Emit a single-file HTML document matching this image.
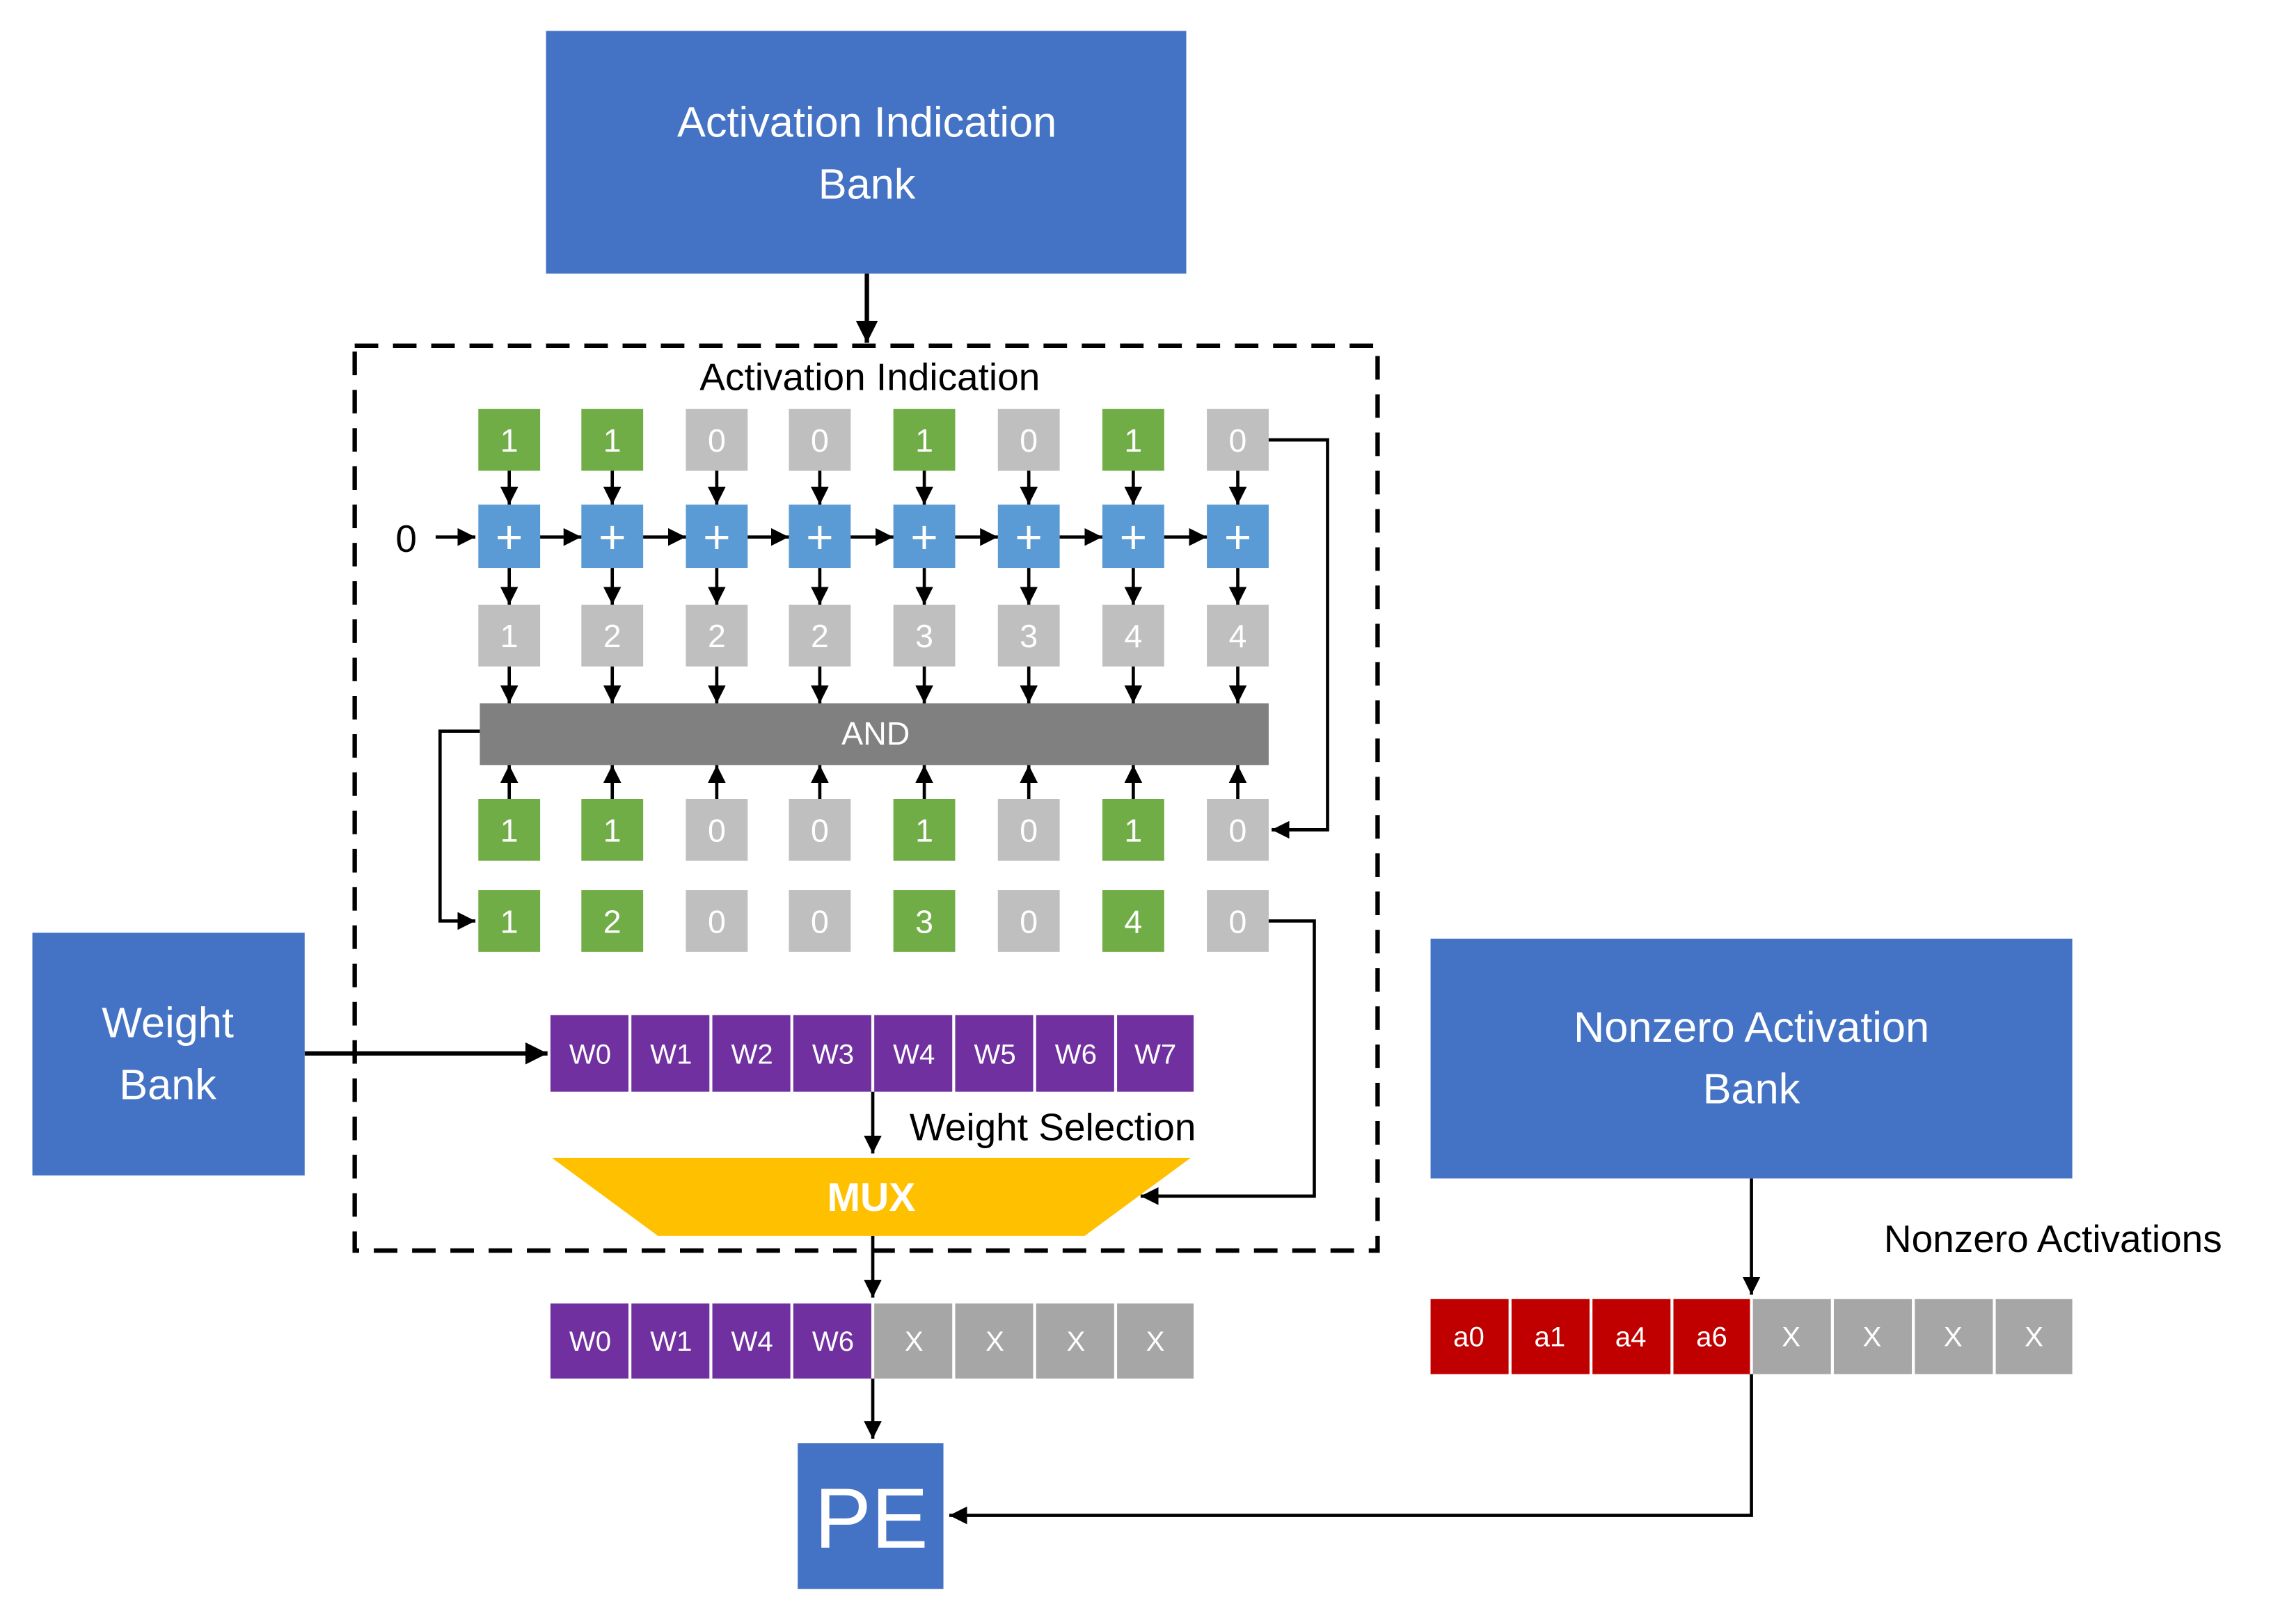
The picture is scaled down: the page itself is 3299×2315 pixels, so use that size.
<!DOCTYPE html>
<html><head><meta charset="utf-8"><style>
html,body{margin:0;padding:0;background:#fff;}
svg{display:block;}
text{font-family:"Liberation Sans",sans-serif;}
</style></head><body>
<svg width="3299" height="2315" viewBox="0 0 1560 1095" preserveAspectRatio="none" xmlns="http://www.w3.org/2000/svg">
<defs>
<marker id="a" viewBox="0 0 10 10" refX="10" refY="5" markerWidth="5" markerHeight="5" orient="auto" markerUnits="strokeWidth"><path d="M0,0 L10,5 L0,10 z" fill="#000"/></marker>
<marker id="s" viewBox="0 0 10 10" refX="10" refY="5" markerWidth="5.5" markerHeight="5.5" orient="auto" markerUnits="strokeWidth"><path d="M0,0 L10,5 L0,10 z" fill="#000"/></marker>
</defs>
<rect x="371" y="21" width="435" height="165" fill="#4472C4"/>
<text x="589" y="93" font-size="29" fill="#fff" text-anchor="middle">Activation  Indication</text>
<text x="589" y="135" font-size="29" fill="#fff" text-anchor="middle">Bank</text>
<line x1="589" y1="186" x2="589" y2="233" stroke="#000" stroke-width="3" marker-end="url(#a)"/>
<rect x="241" y="235" width="695" height="615" fill="none" stroke="#000" stroke-width="3" stroke-dasharray="16,10"/>
<text x="591" y="265" font-size="26" fill="#000" text-anchor="middle">Activation Indication</text>
<text x="276" y="375" font-size="26" fill="#000" text-anchor="middle">0</text>
<g font-size="22" fill="#fff" text-anchor="middle">
<rect x="325" y="278" width="42" height="42" fill="#70AD47"/><text x="346" y="307">1</text>
<rect x="395" y="278" width="42" height="42" fill="#70AD47"/><text x="416" y="307">1</text>
<rect x="466" y="278" width="42" height="42" fill="#BFBFBF"/><text x="487" y="307">0</text>
<rect x="536" y="278" width="42" height="42" fill="#BFBFBF"/><text x="557" y="307">0</text>
<rect x="607" y="278" width="42" height="42" fill="#70AD47"/><text x="628" y="307">1</text>
<rect x="678" y="278" width="42" height="42" fill="#BFBFBF"/><text x="699" y="307">0</text>
<rect x="749" y="278" width="42" height="42" fill="#70AD47"/><text x="770" y="307">1</text>
<rect x="820" y="278" width="42" height="42" fill="#BFBFBF"/><text x="841" y="307">0</text>
<g font-size="32">
<rect x="325" y="343" width="42" height="43" fill="#5B9BD5"/><text x="346" y="376">+</text>
<rect x="395" y="343" width="42" height="43" fill="#5B9BD5"/><text x="416" y="376">+</text>
<rect x="466" y="343" width="42" height="43" fill="#5B9BD5"/><text x="487" y="376">+</text>
<rect x="536" y="343" width="42" height="43" fill="#5B9BD5"/><text x="557" y="376">+</text>
<rect x="607" y="343" width="42" height="43" fill="#5B9BD5"/><text x="628" y="376">+</text>
<rect x="678" y="343" width="42" height="43" fill="#5B9BD5"/><text x="699" y="376">+</text>
<rect x="749" y="343" width="42" height="43" fill="#5B9BD5"/><text x="770" y="376">+</text>
<rect x="820" y="343" width="42" height="43" fill="#5B9BD5"/><text x="841" y="376">+</text>
</g>
<rect x="325" y="411" width="42" height="42" fill="#BFBFBF"/><text x="346" y="440">1</text>
<rect x="395" y="411" width="42" height="42" fill="#BFBFBF"/><text x="416" y="440">2</text>
<rect x="466" y="411" width="42" height="42" fill="#BFBFBF"/><text x="487" y="440">2</text>
<rect x="536" y="411" width="42" height="42" fill="#BFBFBF"/><text x="557" y="440">2</text>
<rect x="607" y="411" width="42" height="42" fill="#BFBFBF"/><text x="628" y="440">3</text>
<rect x="678" y="411" width="42" height="42" fill="#BFBFBF"/><text x="699" y="440">3</text>
<rect x="749" y="411" width="42" height="42" fill="#BFBFBF"/><text x="770" y="440">4</text>
<rect x="820" y="411" width="42" height="42" fill="#BFBFBF"/><text x="841" y="440">4</text>
<rect x="326" y="478" width="536" height="42" fill="#808080"/><text x="595" y="506">AND</text>
<rect x="325" y="543" width="42" height="42" fill="#70AD47"/><text x="346" y="572">1</text>
<rect x="395" y="543" width="42" height="42" fill="#70AD47"/><text x="416" y="572">1</text>
<rect x="466" y="543" width="42" height="42" fill="#BFBFBF"/><text x="487" y="572">0</text>
<rect x="536" y="543" width="42" height="42" fill="#BFBFBF"/><text x="557" y="572">0</text>
<rect x="607" y="543" width="42" height="42" fill="#70AD47"/><text x="628" y="572">1</text>
<rect x="678" y="543" width="42" height="42" fill="#BFBFBF"/><text x="699" y="572">0</text>
<rect x="749" y="543" width="42" height="42" fill="#70AD47"/><text x="770" y="572">1</text>
<rect x="820" y="543" width="42" height="42" fill="#BFBFBF"/><text x="841" y="572">0</text>
<rect x="325" y="605" width="42" height="42" fill="#70AD47"/><text x="346" y="634">1</text>
<rect x="395" y="605" width="42" height="42" fill="#70AD47"/><text x="416" y="634">2</text>
<rect x="466" y="605" width="42" height="42" fill="#BFBFBF"/><text x="487" y="634">0</text>
<rect x="536" y="605" width="42" height="42" fill="#BFBFBF"/><text x="557" y="634">0</text>
<rect x="607" y="605" width="42" height="42" fill="#70AD47"/><text x="628" y="634">3</text>
<rect x="678" y="605" width="42" height="42" fill="#BFBFBF"/><text x="699" y="634">0</text>
<rect x="749" y="605" width="42" height="42" fill="#70AD47"/><text x="770" y="634">4</text>
<rect x="820" y="605" width="42" height="42" fill="#BFBFBF"/><text x="841" y="634">0</text>
</g>
<g stroke="#000" stroke-width="2.2" fill="none">
<line x1="296" y1="365" x2="323" y2="365" marker-end="url(#s)"/>
<line x1="346" y1="320" x2="346" y2="343" marker-end="url(#s)"/>
<line x1="416" y1="320" x2="416" y2="343" marker-end="url(#s)"/>
<line x1="487" y1="320" x2="487" y2="343" marker-end="url(#s)"/>
<line x1="557" y1="320" x2="557" y2="343" marker-end="url(#s)"/>
<line x1="628" y1="320" x2="628" y2="343" marker-end="url(#s)"/>
<line x1="699" y1="320" x2="699" y2="343" marker-end="url(#s)"/>
<line x1="770" y1="320" x2="770" y2="343" marker-end="url(#s)"/>
<line x1="841" y1="320" x2="841" y2="343" marker-end="url(#s)"/>
<line x1="346" y1="386" x2="346" y2="411" marker-end="url(#s)"/>
<line x1="416" y1="386" x2="416" y2="411" marker-end="url(#s)"/>
<line x1="487" y1="386" x2="487" y2="411" marker-end="url(#s)"/>
<line x1="557" y1="386" x2="557" y2="411" marker-end="url(#s)"/>
<line x1="628" y1="386" x2="628" y2="411" marker-end="url(#s)"/>
<line x1="699" y1="386" x2="699" y2="411" marker-end="url(#s)"/>
<line x1="770" y1="386" x2="770" y2="411" marker-end="url(#s)"/>
<line x1="841" y1="386" x2="841" y2="411" marker-end="url(#s)"/>
<line x1="346" y1="453" x2="346" y2="478" marker-end="url(#s)"/>
<line x1="416" y1="453" x2="416" y2="478" marker-end="url(#s)"/>
<line x1="487" y1="453" x2="487" y2="478" marker-end="url(#s)"/>
<line x1="557" y1="453" x2="557" y2="478" marker-end="url(#s)"/>
<line x1="628" y1="453" x2="628" y2="478" marker-end="url(#s)"/>
<line x1="699" y1="453" x2="699" y2="478" marker-end="url(#s)"/>
<line x1="770" y1="453" x2="770" y2="478" marker-end="url(#s)"/>
<line x1="841" y1="453" x2="841" y2="478" marker-end="url(#s)"/>
<line x1="346" y1="543" x2="346" y2="520" marker-end="url(#s)"/>
<line x1="416" y1="543" x2="416" y2="520" marker-end="url(#s)"/>
<line x1="487" y1="543" x2="487" y2="520" marker-end="url(#s)"/>
<line x1="557" y1="543" x2="557" y2="520" marker-end="url(#s)"/>
<line x1="628" y1="543" x2="628" y2="520" marker-end="url(#s)"/>
<line x1="699" y1="543" x2="699" y2="520" marker-end="url(#s)"/>
<line x1="770" y1="543" x2="770" y2="520" marker-end="url(#s)"/>
<line x1="841" y1="543" x2="841" y2="520" marker-end="url(#s)"/>
<line x1="367" y1="365" x2="395" y2="365" marker-end="url(#s)"/>
<line x1="437" y1="365" x2="466" y2="365" marker-end="url(#s)"/>
<line x1="508" y1="365" x2="536" y2="365" marker-end="url(#s)"/>
<line x1="578" y1="365" x2="607" y2="365" marker-end="url(#s)"/>
<line x1="649" y1="365" x2="678" y2="365" marker-end="url(#s)"/>
<line x1="720" y1="365" x2="749" y2="365" marker-end="url(#s)"/>
<line x1="791" y1="365" x2="820" y2="365" marker-end="url(#s)"/>
<path d="M862 299H902V564H864" marker-end="url(#s)"/>
<path d="M326 497H299V626H323" marker-end="url(#s)"/>
<path d="M862 626H893V813H775" marker-end="url(#s)"/>
<line x1="593" y1="742" x2="593" y2="784" marker-end="url(#s)"/>
<line x1="593" y1="840" x2="593" y2="882" marker-end="url(#s)"/>
<line x1="593" y1="937" x2="593" y2="978" marker-end="url(#s)"/>
<line x1="1190" y1="801" x2="1190" y2="880" marker-end="url(#s)"/>
<path d="M1190 934V1030H645" marker-end="url(#s)"/>
</g>
<line x1="207" y1="716" x2="372" y2="716" stroke="#000" stroke-width="3" marker-end="url(#a)"/>
<rect x="22" y="634" width="185" height="165" fill="#4472C4"/>
<text x="114" y="705" font-size="29" fill="#fff" text-anchor="middle">Weight</text>
<text x="114" y="747" font-size="29" fill="#fff" text-anchor="middle">Bank</text>
<g font-size="19" fill="#fff" text-anchor="middle">
<rect x="374" y="690" width="53" height="52" fill="#7030A0"/><text x="401" y="723">W0</text>
<rect x="429" y="690" width="53" height="52" fill="#7030A0"/><text x="456" y="723">W1</text>
<rect x="484" y="690" width="53" height="52" fill="#7030A0"/><text x="511" y="723">W2</text>
<rect x="539" y="690" width="53" height="52" fill="#7030A0"/><text x="566" y="723">W3</text>
<rect x="594" y="690" width="53" height="52" fill="#7030A0"/><text x="621" y="723">W4</text>
<rect x="649" y="690" width="53" height="52" fill="#7030A0"/><text x="676" y="723">W5</text>
<rect x="704" y="690" width="53" height="52" fill="#7030A0"/><text x="731" y="723">W6</text>
<rect x="759" y="690" width="52" height="52" fill="#7030A0"/><text x="785" y="723">W7</text>
<rect x="374" y="886" width="53" height="51" fill="#7030A0"/><text x="401" y="918">W0</text>
<rect x="429" y="886" width="53" height="51" fill="#7030A0"/><text x="456" y="918">W1</text>
<rect x="484" y="886" width="53" height="51" fill="#7030A0"/><text x="511" y="918">W4</text>
<rect x="539" y="886" width="53" height="51" fill="#7030A0"/><text x="566" y="918">W6</text>
<rect x="594" y="886" width="53" height="51" fill="#A6A6A6"/><text x="621" y="918">X</text>
<rect x="649" y="886" width="53" height="51" fill="#A6A6A6"/><text x="676" y="918">X</text>
<rect x="704" y="886" width="53" height="51" fill="#A6A6A6"/><text x="731" y="918">X</text>
<rect x="759" y="886" width="52" height="51" fill="#A6A6A6"/><text x="785" y="918">X</text>
<rect x="972" y="883" width="53" height="51" fill="#C00000"/><text x="998" y="915">a0</text>
<rect x="1027" y="883" width="53" height="51" fill="#C00000"/><text x="1053" y="915">a1</text>
<rect x="1082" y="883" width="53" height="51" fill="#C00000"/><text x="1108" y="915">a4</text>
<rect x="1137" y="883" width="52" height="51" fill="#C00000"/><text x="1163" y="915">a6</text>
<rect x="1191" y="883" width="53" height="51" fill="#A6A6A6"/><text x="1217" y="915">X</text>
<rect x="1246" y="883" width="53" height="51" fill="#A6A6A6"/><text x="1272" y="915">X</text>
<rect x="1301" y="883" width="53" height="51" fill="#A6A6A6"/><text x="1327" y="915">X</text>
<rect x="1356" y="883" width="52" height="51" fill="#A6A6A6"/><text x="1382" y="915">X</text>
</g>
<text x="618" y="775" font-size="26" fill="#000">Weight Selection</text>
<polygon points="375,787 809,787 737,840 447,840" fill="#FFC000"/>
<text x="592" y="823" font-size="27" font-weight="bold" fill="#fff" text-anchor="middle">MUX</text>
<rect x="542" y="981" width="99" height="99" fill="#4472C4"/>
<text x="592" y="1052" font-size="58" fill="#fff" text-anchor="middle">PE</text>
<rect x="972" y="638" width="436" height="163" fill="#4472C4"/>
<text x="1190" y="708" font-size="29" fill="#fff" text-anchor="middle">Nonzero Activation</text>
<text x="1190" y="750" font-size="29" fill="#fff" text-anchor="middle">Bank</text>
<text x="1280" y="851" font-size="26" fill="#000">Nonzero Activations</text>
</svg>
</body></html>
